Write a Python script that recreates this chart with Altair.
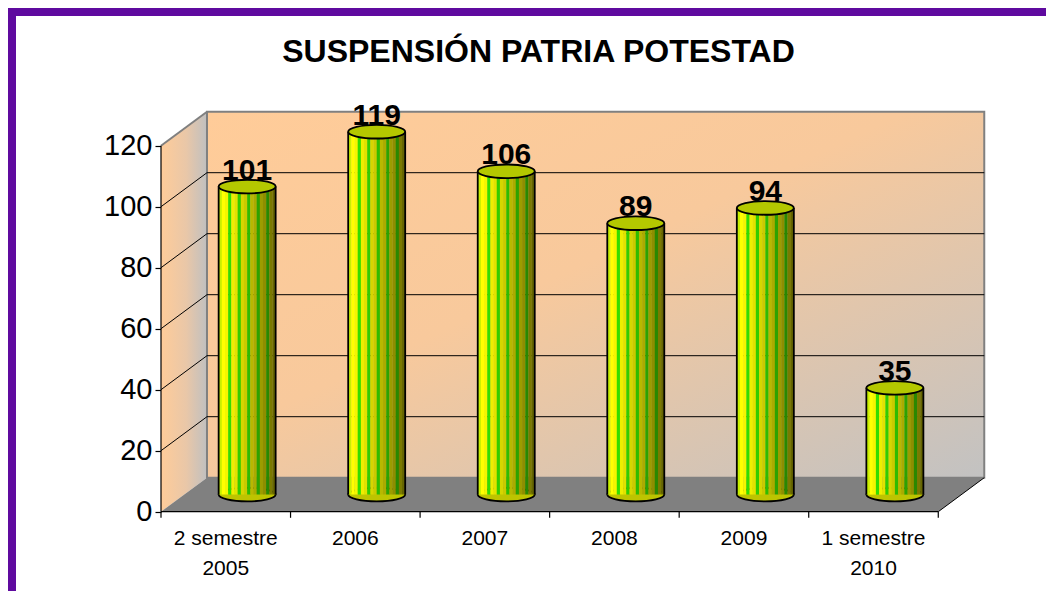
import altair as alt
import pandas as pd

# ---- data ----
categories = ["2 semestre\n2005", "2006", "2007", "2008", "2009", "1 semestre\n2010"]
values = [101, 119, 106, 89, 94, 35]
y_ticks = [0, 20, 40, 60, 80, 100, 120]
title_text = "SUSPENSIÓN PATRIA POTESTAD"

# cylinder stripe palette (left -> right)
stripe_colors = ["#C8F000", "#FFFF00", "#F5F500", "#33DD00", "#EEEE00", "#E2E200",
                 "#33CC00", "#D6D600", "#CACA00", "#30BB00", "#B8B800", "#ABAB00",
                 "#2EA200", "#9C9C00", "#8E8E00", "#2A8800", "#7A7A00", "#666600"]

FONT = "Liberation Sans"
PX_X = 129.55          # pixels per category
PX_Y = 3.05            # pixels per value unit
DX, DY = 0.355, 11.15  # depth of the 3D box (category units, value units)
BAR_DX, BAR_DY = 0.165, 5.6
BAR_W = 0.44
N_CAT = len(values)
N_STRIPE = len(stripe_colors)
TOP = y_ticks[-1]

xs = alt.Scale(domain=[0, 6.6], nice=False, zero=False)
ys = alt.Scale(domain=[-26, 134], nice=False, zero=False)
W = round(6.6 * PX_X)
H = round(160 * PX_Y)

y_axis_def = alt.Axis(
    values=y_ticks, title=None, domain=False, grid=False, ticks=True,
    tickSize=6, tickColor="black", tickWidth=1.2, labelFont=FONT, labelFontSize=29,
    labelColor="black", labelPadding=3, labelFlush=False, labelOverlap=False)


def X(f):
    return alt.X(f, type="quantitative", scale=xs, axis=None)


def Y(f):
    return alt.Y(f, type="quantitative", scale=ys, axis=y_axis_def)


# ---- box: side wall, back wall, floor ----
side_df = pd.DataFrame({"x": [0, DX], "y": [0, DY], "y2": [TOP, TOP + DY]})
side = alt.Chart(side_df).mark_area(
    orient="vertical",
    color=alt.Gradient(gradient="linear", x1=0, x2=1, y1=0, y2=0,
                       stops=[alt.GradientStop(color="#FFCC99", offset=0),
                              alt.GradientStop(color="#E9C7A8", offset=0.55),
                              alt.GradientStop(color="#C0C0C0", offset=1)]),
).encode(x=X("x"), y=Y("y"), y2="y2")

back_df = pd.DataFrame({"x": [DX], "x2": [N_CAT + DX], "y": [DY], "y2": [TOP + DY]})
back = alt.Chart(back_df).mark_rect(
    fill=alt.Gradient(gradient="linear", x1=0, x2=1, y1=0, y2=1,
                      stops=[alt.GradientStop(color="#FFCC99", offset=0),
                             alt.GradientStop(color="#F8C99C", offset=0.45),
                             alt.GradientStop(color="#C2C2C2", offset=1)]),
    stroke="#808080", strokeWidth=2,
).encode(x=X("x"), x2="x2", y=Y("y"), y2="y2")

floor_df = pd.DataFrame({"y": [0, DY], "x": [0, DX], "x2": [N_CAT, N_CAT + DX]})
floor = alt.Chart(floor_df).mark_area(orient="horizontal", color="#808080").encode(
    y=Y("y"), x=X("x"), x2="x2")

# ---- grid lines ----
grid_df = pd.DataFrame({"v": y_ticks[1:-1]})
grid_df["yb"] = grid_df["v"] + DY
grid_df["x0"] = 0.0
grid_df["xb"] = DX
grid_df["xe"] = N_CAT + DX

back_grid = alt.Chart(grid_df).mark_rule(color="black", strokeWidth=1).encode(
    x=X("xb"), x2="xe", y=Y("yb"))
side_grid = alt.Chart(grid_df).mark_rule(color="black", strokeWidth=1).encode(
    x=X("x0"), x2="xb", y=Y("v"), y2="yb")

topedge_df = pd.DataFrame({"x": [0], "x2": [DX], "y": [TOP], "y2": [TOP + DY]})
side_top = alt.Chart(topedge_df).mark_rule(color="#808080", strokeWidth=2).encode(
    x=X("x"), x2="x2", y=Y("y"), y2="y2")

edge_df = pd.DataFrame({"x": [N_CAT], "x2": [N_CAT + DX], "y": [0], "y2": [DY]})
floor_edge = alt.Chart(edge_df).mark_rule(color="black", strokeWidth=1).encode(
    x=X("x"), x2="x2", y=Y("y"), y2="y2")

# ---- axes ----
xline_df = pd.DataFrame({"x": [0], "x2": [N_CAT], "y": [0]})
x_line = alt.Chart(xline_df).mark_rule(color="black", strokeWidth=1.2).encode(
    x=X("x"), x2="x2", y=Y("y"))

xt_df = pd.DataFrame({"x": list(range(N_CAT + 1))})
xt_df["y"] = 0.0
xt_df["y2"] = -2.0
x_ticks = alt.Chart(xt_df).mark_rule(color="black", strokeWidth=1.2).encode(
    x=X("x"), y=Y("y"), y2="y2")

yl_df = pd.DataFrame({"x": [0], "y": [0], "y2": [TOP]})
y_axis = alt.Chart(yl_df).mark_rule(color="black", strokeWidth=1.2).encode(
    x=X("x"), y=Y("y"), y2="y2")

# ---- cylinders ----
bar_df = pd.DataFrame({"i": range(N_CAT), "value": values, "cat": categories})
bar_df["cx"] = bar_df["i"] + 0.5 + BAR_DX
bar_df["left"] = bar_df["cx"] - BAR_W / 2
bar_df["right"] = bar_df["cx"] + BAR_W / 2
bar_df["base"] = BAR_DY
bar_df["top"] = bar_df["value"] + BAR_DY

stripe_rows = []
sw = BAR_W / N_STRIPE
for _, r in bar_df.iterrows():
    for k in range(N_STRIPE):
        stripe_rows.append({"k": k, "x": r["left"] + k * sw, "x2": r["left"] + (k + 1) * sw + 0.002,
                            "y": r["base"], "y2": r["top"]})
stripe_df = pd.DataFrame(stripe_rows)

ellipse = ("M -1 0 C -1 -0.1325 -0.5523 -0.24 0 -0.24 C 0.5523 -0.24 1 -0.1325 1 0 "
           "C 1 0.1325 0.5523 0.24 0 0.24 C -0.5523 0.24 -1 0.1325 -1 0 Z")
ell_size = (BAR_W * PX_X) ** 2

bottom_ell = alt.Chart(bar_df).mark_point(
    shape=ellipse, size=ell_size, filled=True, fill="#BDC400", stroke="black",
    strokeWidth=1.8, opacity=1).encode(x=X("cx"), y=Y("base"))

stripes = alt.Chart(stripe_df).mark_rect(strokeWidth=0).encode(
    x=X("x"), x2="x2", y=Y("y"), y2="y2",
    fill=alt.Fill("k:O", scale=alt.Scale(domain=list(range(N_STRIPE)), range=stripe_colors),
                  legend=None))

left_edge = alt.Chart(bar_df).mark_rule(color="black", strokeWidth=1.8).encode(
    x=X("left"), y=Y("base"), y2="top")
right_edge = alt.Chart(bar_df).mark_rule(color="black", strokeWidth=1.8).encode(
    x=X("right"), y=Y("base"), y2="top")

top_ell = alt.Chart(bar_df).mark_point(
    shape=ellipse, size=ell_size, filled=True, fill="#B4C800", stroke="black",
    strokeWidth=1.8, opacity=1).encode(x=X("cx"), y=Y("top"))

value_labels = alt.Chart(bar_df).mark_text(
    font=FONT, fontSize=30, fontWeight="bold", color="black", baseline="alphabetic", dy=-7
).encode(x=X("cx"), y=Y("top"), text="value:Q")

cat_df = pd.DataFrame({"cat": categories, "x": [i + 0.5 for i in range(N_CAT)]})
cat_df["y"] = -5.3
cat_labels = alt.Chart(cat_df).mark_text(
    font=FONT, fontSize=21, color="black", baseline="top", lineBreak="\n", lineHeight=30
).encode(x=X("x"), y=Y("y"), text="cat:N")

# ---- purple frame (top & left) ----
one = pd.DataFrame({"a": [0]})
frame_left = alt.Chart(one).mark_rect(color="#5F0A9F").encode(
    x=alt.value(-153), x2=alt.value(-145), y=alt.value(-95), y2=alt.value(H))
frame_top = alt.Chart(one).mark_rect(color="#5F0A9F").encode(
    x=alt.value(-153), x2=alt.value(W + 30), y=alt.value(-95), y2=alt.value(-87))

chart = alt.layer(
    side, back, floor, back_grid, side_grid, side_top, floor_edge,
    x_line, x_ticks, y_axis,
    bottom_ell, stripes, left_edge, right_edge, top_ell,
    value_labels, cat_labels, frame_left, frame_top,
).properties(
    width=W, height=H,
    autosize=alt.AutoSizeParams(type="none"),
    padding={"left": 153, "top": 95, "right": 30, "bottom": 0},
    background="white",
    title=alt.TitleParams(title_text, font=FONT, fontSize=32, fontWeight="bold", color="black",
                          anchor="middle", frame="group", dx=-50, offset=-86, baseline="alphabetic"),
).configure_view(stroke=None)

chart.save("out.html", embed_options={"renderer": "svg", "actions": False})
